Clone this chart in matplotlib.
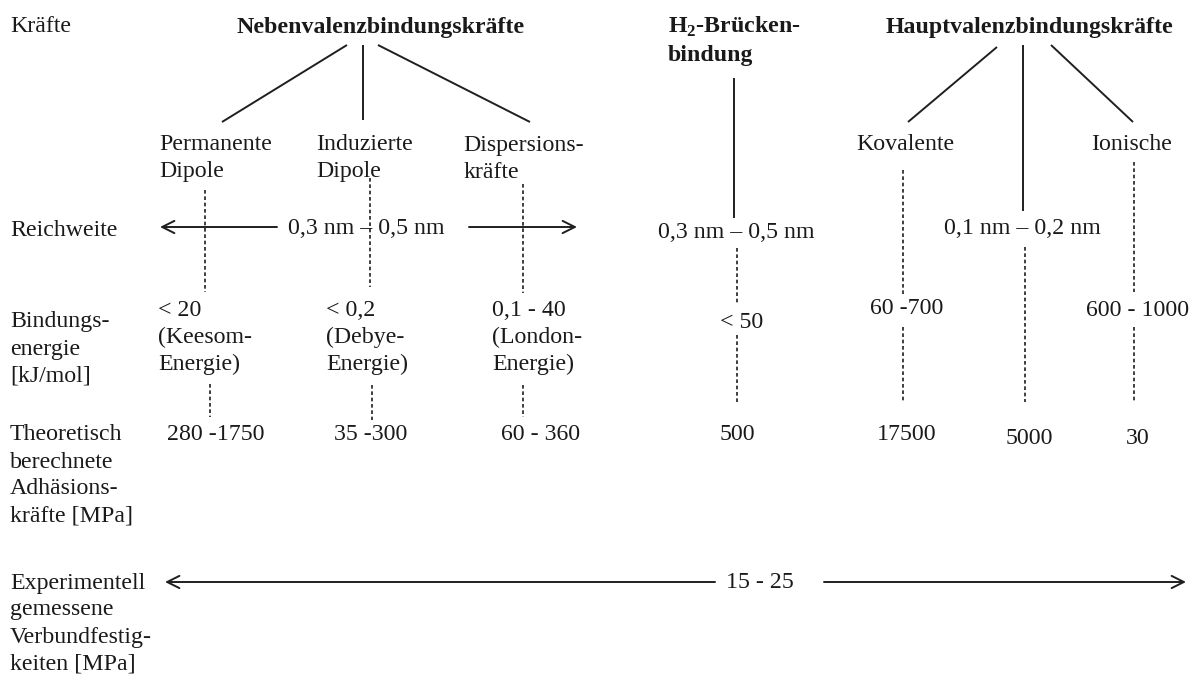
import matplotlib
matplotlib.use("Agg")
import matplotlib.pyplot as plt

plt.rcParams['font.family'] = ['Liberation Serif', 'DejaVu Serif']
plt.rcParams['mathtext.fontset'] = 'custom'
plt.rcParams['mathtext.rm'] = 'Liberation Serif:bold'
plt.rcParams['mathtext.bf'] = 'Liberation Serif:bold'

# ---------------- data ----------------
row_labels = [
    ["Kräfte"],
    ["Reichweite"],
    ["Bindungs-", "energie", "[kJ/mol]"],
    ["Theoretisch", "berechnete", "Adhäsions-", "kräfte [MPa]"],
    ["Experimentell", "gemessene", "Verbundfestig-", "keiten [MPa]"],
]
group_labels = [
    ["Nebenvalenzbindungskräfte"],
    [r"H$_{\mathbf{2}}$-Brücken-", "bindung"],
    ["Hauptvalenzbindungskräfte"],
]
sub_types = [
    ["Permanente", "Dipole"],
    ["Induzierte", "Dipole"],
    ["Dispersions-", "kräfte"],
    ["Kovalente"],
    ["Ionische"],
]
reichweite = ["0,3 nm – 0,5 nm", "0,3 nm – 0,5 nm", "0,1 nm – 0,2 nm"]
bindungsenergie = [
    ["< 20", "(Keesom-", "Energie)"],
    ["< 0,2", "(Debye-", "Energie)"],
    ["0,1 - 40", "(London-", "Energie)"],
    ["< 50"],
    ["60 -700"],
    ["600 - 1000"],
]
adhaesion = ["280 -1750", "35 -300", "60 - 360", "500", "17500", "5000", "30"]
verbund = "15 - 25"

# ---------------- layout ----------------
FS = 17.2
STEP = 27
TXT = "#1a1a1a"
LC = "#1f1f1f"

fig = plt.figure(figsize=(12, 6.77), dpi=100)
ax = fig.add_axes([0, 0, 1, 1])
ax.set_xlim(0, 1200)
ax.set_ylim(677, 0)
ax.axis("off")


def lines(x, y0, texts, ha="left", bold=False, step=STEP):
    for i, t in enumerate(texts):
        ax.text(x, y0 + i * step, t, ha=ha, va="center", fontsize=FS,
                color=TXT, fontweight="bold" if bold else "normal")


def solid(x0, y0, x1, y1):
    ax.plot([x0, x1], [y0, y1], color=LC, lw=1.4, solid_capstyle="butt")


def dashed(x, y0, y1):
    ax.plot([x, x], [y0, y1], color=LC, lw=1.2, linestyle=(0, (2.2, 1.6)))


def arrow(x_tail, x_head, y):
    ax.annotate("", xy=(x_head, y), xytext=(x_tail, y),
                arrowprops=dict(arrowstyle="->", lw=1.4, color=LC,
                                mutation_scale=22, shrinkA=0, shrinkB=0))


# left column
row_y = [27, 231, 322, 435, 583]
for lab, y in zip(row_labels, row_y):
    lines(10, y, lab)

# group headers
lines(381, 27, group_labels[0], ha="center", bold=True)
lines(668, 27, group_labels[1], ha="left", bold=True, step=28)
lines(1030, 27, group_labels[2], ha="center", bold=True)

# tree lines
solid(347, 45, 222, 122)
solid(363, 45, 363, 120)
solid(378, 45, 530, 122)
solid(734, 78, 734, 218)
solid(997, 47, 908, 122)
solid(1023, 45, 1023, 211)
solid(1051, 45, 1133, 122)

# sub types
sub_x = [159, 316, 463, 905, 1132]
sub_ha = ["left", "left", "left", "center", "center"]
for lab, x, ha in zip(sub_types, sub_x, sub_ha):
    lines(x, 145, lab, ha=ha)

# dashed connectors (upper)
for x, y0, y1 in [(205, 190, 292), (370, 178, 287), (523, 184, 293),
                  (903, 170, 295), (1134, 162, 292), (1025, 247, 402),
                  (737, 248, 305)]:
    dashed(x, y0, y1)
# dashed connectors (lower)
for x, y0, y1 in [(210, 384, 417), (372, 385, 420), (523, 385, 417),
                  (737, 335, 403), (903, 327, 403), (1134, 327, 403)]:
    dashed(x, y0, y1)

# Reichweite
ax.text(288, 229, reichweite[0], ha="left", va="center", fontsize=FS, color=TXT)
ax.text(736, 232, reichweite[1], ha="center", va="center", fontsize=FS, color=TXT)
ax.text(1022, 229, reichweite[2], ha="center", va="center", fontsize=FS, color=TXT)
arrow(277, 160, 227)
arrow(469, 577, 227)

# Bindungsenergie
be_pos = [(158, 310, "left"), (326, 310, "left"), (492, 310, "left"),
          (742, 322, "center"), (907, 308, "center"), (1138, 310, "center")]
for lab, (x, y, ha) in zip(bindungsenergie, be_pos):
    lines(x, y, lab, ha=ha)

# Adhaesionskraefte
ad_pos = [(216, 435), (371, 435), (541, 435), (737, 435), (907, 435),
          (1029, 439), (1138, 438)]
for lab, (x, y) in zip(adhaesion, ad_pos):
    ax.text(x, y, lab, ha="center", va="center", fontsize=FS, color=TXT)

# Verbundfestigkeit
arrow(715, 165, 582)
arrow(824, 1186, 582)
ax.text(760, 582, verbund, ha="center", va="center", fontsize=FS, color=TXT)

fig.savefig("out.png", dpi=100, facecolor="white")
